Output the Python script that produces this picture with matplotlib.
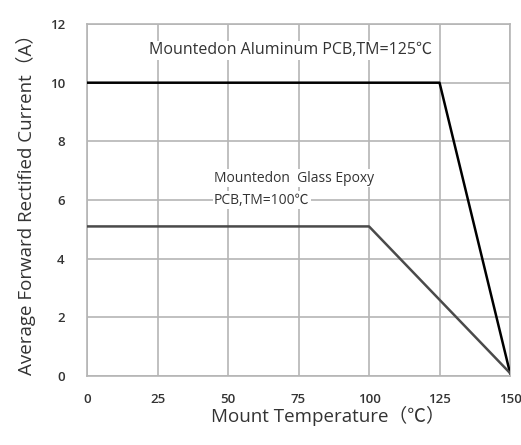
import matplotlib.pyplot as plt

# 資料
temp_al = [0, 125, 150]
curr_al = [10, 10, 0.1]
temp_ep = [0, 100, 150]
curr_ep = [5.1, 5.1, 0.1]
x_ticks = [0, 25, 50, 75, 100, 125, 150]
y_ticks = [0, 2, 4, 6, 8, 10, 12]

plt.rcParams['font.family'] = ['Open Sans', 'Noto Sans CJK SC', 'DejaVu Sans']

fig = plt.figure(figsize=(5.21, 4.45), dpi=100)
ax = fig.add_axes([0.167, 0.155, 0.812, 0.791])

ax.plot(temp_al, curr_al, color="black", lw=1.8, zorder=3)
ax.plot(temp_ep, curr_ep, color="#4a4a4a", lw=1.8, zorder=3)

ax.set_xlim(0, 150)
ax.set_ylim(0, 12)
ax.set_xticks(x_ticks)
ax.set_yticks(y_ticks)
ax.grid(True, color="#b5b5b5", lw=1.2)
ax.set_axisbelow(True)
ax.tick_params(length=0, labelsize=9.5, colors="#333333")
ax.tick_params(axis="y", pad=16)
ax.tick_params(axis="x", pad=12)
for lbl in ax.get_xticklabels() + ax.get_yticklabels():
    lbl.set_fontweight("semibold")
for s in ax.spines.values():
    s.set_color("#b5b5b5")
    s.set_linewidth(1.2)

box = dict(facecolor="white", edgecolor="none", pad=1)
ax.text(22, 11.1, "Mountedon Aluminum PCB,TM=125℃", fontsize=11.5, color="#333333",
        va="center", ha="left", bbox=box, zorder=2)
ax.text(45, 6.75, "Mountedon  Glass Epoxy", fontsize=10, color="#333333",
        va="center", ha="left", bbox=box, zorder=2)
ax.text(45, 6.0, "PCB,TM=100℃", fontsize=10, color="#333333",
        va="center", ha="left", bbox=box, zorder=2)

ax.set_xlabel("Mount Temperature（℃）", fontsize=13.5, color="#333333")
ax.xaxis.set_label_coords(0.57, -0.085)
ax.set_ylabel("Average Forward Rectified Current（A）", fontsize=13.5, color="#333333", labelpad=10)

fig.savefig("out.png", dpi=100)
